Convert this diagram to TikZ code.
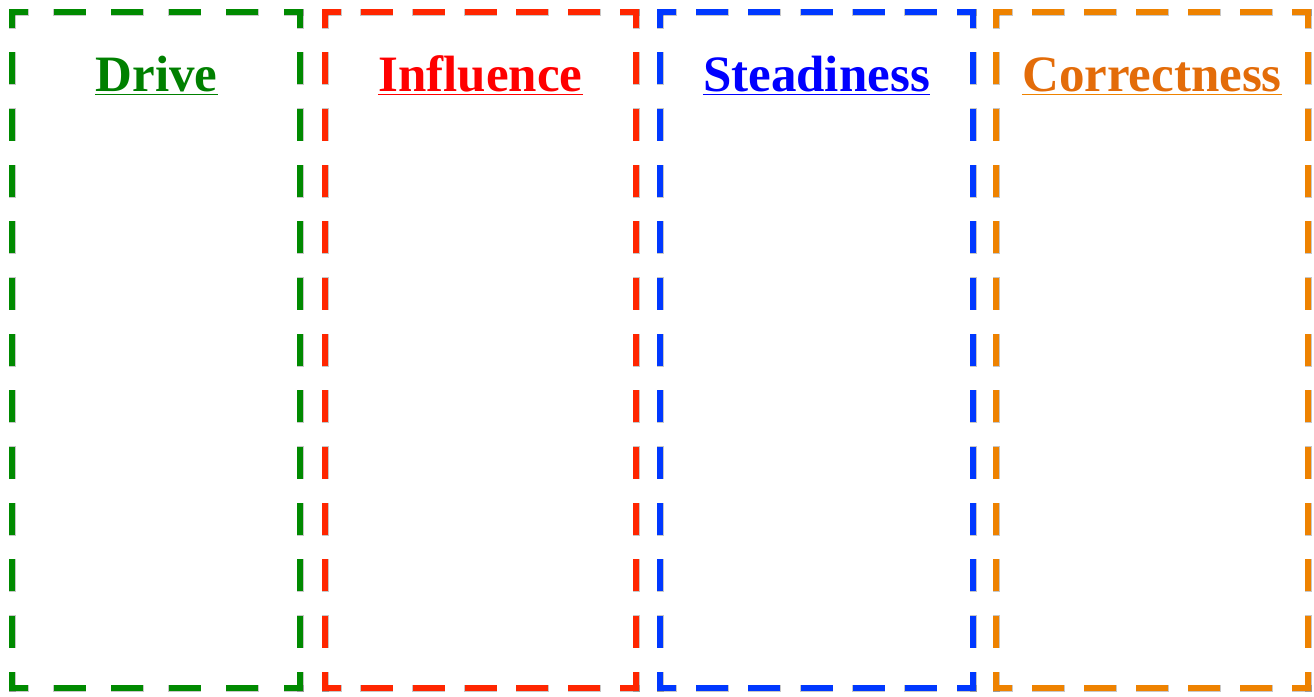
\documentclass[tikz,border=0pt]{standalone}
\usepackage{fontspec}
\setmainfont{Liberation Serif}

% frame colours and title colours
\definecolor{dGreen}{RGB}{0,138,0}
\definecolor{dGreenT}{RGB}{0,128,0}
\definecolor{iRed}{RGB}{255,38,0}
\definecolor{iRedT}{RGB}{255,0,0}
\definecolor{sBlue}{RGB}{0,56,255}
\definecolor{sBlueT}{RGB}{0,0,255}
\definecolor{cOrange}{RGB}{238,130,0}
\definecolor{cOrangeT}{RGB}{227,108,9}

\begin{document}
\begin{tikzpicture}[x=1pt, y=-1pt,
  % one side of a frame: square-capped dashes, a half dash at each corner
  side/.style={line width=6pt, line cap=rect, dash pattern=on 26pt off #1pt, dash phase=13pt},
  sideshadow/.style={side=#1, draw=black, opacity=0.22, line width=7pt, xshift=1.5pt, yshift=-3pt},
  title/.style={font=\bfseries\fontsize{51}{60}\selectfont, inner sep=0pt, anchor=base},
  uline/.style={line width=1.6pt}
]
\useasboundingbox (0,0) rectangle (1314,696);

% dashed column frames: left / right / frame colour
\foreach \L/\R/\col in {12/300/dGreen, 325/636/iRed, 660/973/sBlue, 996/1308/cOrange}{
  \pgfmathsetmacro\gw{(\R-\L)/round((\R-\L)/56.5)-26}
  \pgfmathsetmacro\gh{676/round(676/56.5)-26}
  \coordinate (nw) at (\L,12);  \coordinate (ne) at (\R,12);
  \coordinate (sw) at (\L,688); \coordinate (se) at (\R,688);
  \draw[sideshadow=\gw] (nw) -- (ne);
  \draw[sideshadow=\gw] (sw) -- (se);
  \draw[sideshadow=\gh] (nw) -- (sw);
  \draw[sideshadow=\gh] (ne) -- (se);
  \draw[side=\gw, draw=\col] (nw) -- (ne);
  \draw[side=\gw, draw=\col] (sw) -- (se);
  \draw[side=\gh, draw=\col] (nw) -- (sw);
  \draw[side=\gh, draw=\col] (ne) -- (se);
}

% underlined column titles
\node[title, text=dGreenT]   (tD) at (156.5,91) {Drive};
\node[title, text=iRedT]     (tI) at (480.5,91) {Influence};
\node[title, text=sBlueT]    (tS) at (816.5,91) {Steadiness};
\node[title, text=cOrangeT]  (tC) at (1152,91)  {Correctness};

\draw[uline, dGreenT]  ([yshift=-3.5pt]tD.base west) -- ([yshift=-3.5pt]tD.base east);
\draw[uline, iRedT]    ([yshift=-3.5pt]tI.base west) -- ([yshift=-3.5pt]tI.base east);
\draw[uline, sBlueT]   ([yshift=-3.5pt]tS.base west) -- ([yshift=-3.5pt]tS.base east);
\draw[uline, cOrange]  ([yshift=-3.5pt]tC.base west) -- ([yshift=-3.5pt]tC.base east);
\end{tikzpicture}
\end{document}
